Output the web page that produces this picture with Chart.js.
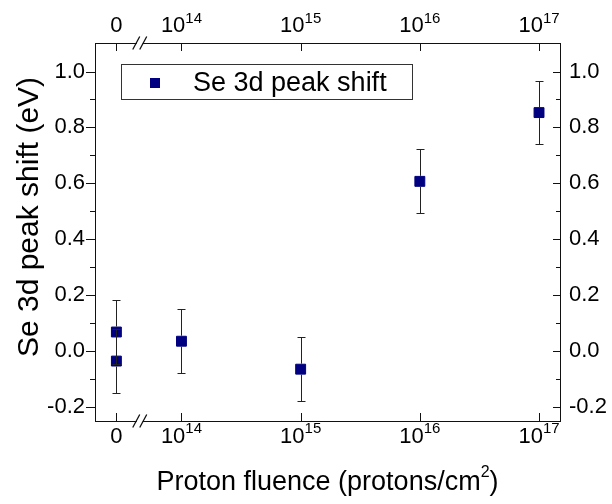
<!DOCTYPE html>
<html><head><meta charset="utf-8">
<script src="https://cdn.jsdelivr.net/npm/chart.js@4.4.1/dist/chart.umd.min.js"></script>
<style>html,body{margin:0;padding:0;background:#fff}#wrap{width:612px;height:504px}</style>
</head><body><div id="wrap"><canvas id="c" width="612" height="504"></canvas></div>
<script>
// ---- data ----
const fluence = [0, 0, 1e14, 1e15, 1e16, 1e17];            // protons/cm^2
const peakShift = [0.068, -0.036, 0.035, -0.065, 0.607, 0.853]; // eV
const peakShiftErr = [0.114, 0.114, 0.114, 0.115, 0.114, 0.114];
const xTickFluence = [0, 1e14, 1e15, 1e16, 1e17];
const xTickBase = ['0', '10', '10', '10', '10'];
const xTickExp = ['', '14', '15', '16', '17'];
const yTickValues = [-0.2, 0, 0.2, 0.4, 0.6, 0.8, 1.0];
const yMinorValues = [-0.1, 0.1, 0.3, 0.5, 0.7, 0.9];
const seriesName = 'Se 3d peak shift';
const xTitleMain = 'Proton fluence (protons/cm';
const xTitleSup = '2';
const xTitleEnd = ')';
const yTitle = 'Se 3d peak shift (eV)';

// ---- axis mapping (broken log axis: 0 placed left of the break) ----
const ZERO_POS = 13.454, BREAK_POS = 13.65;
const X_MIN = 13.2746, X_MAX = 17.176, Y_MIN = -0.2504, Y_MAX = 1.102;
function fluencePos(f) { return f === 0 ? ZERO_POS : Math.log10(f); }

const FONT = '"Liberation Sans", Arial, Helvetica, sans-serif';
const AX = '#111';
const MARK = '#000080';
const ERRC = '#222';
const TICK_PX = 22, SUP_PX = 15;

const decor = {
  id: 'decor',
  afterDatasetsDraw(chart) {
    const ctx = chart.ctx, ca = chart.chartArea;
    const xs = chart.scales.x, ys = chart.scales.y;
    ctx.save();
    // error bars
    const meta = chart.getDatasetMeta(0);
    ctx.strokeStyle = ERRC; ctx.lineWidth = 1;
    ctx.beginPath();
    meta.data.forEach((pt, i) => {
      const x = Math.round(pt.x) + 0.5;
      const yT = Math.round(ys.getPixelForValue(peakShift[i] + peakShiftErr[i])) + 0.5;
      const yB = Math.round(ys.getPixelForValue(peakShift[i] - peakShiftErr[i])) + 0.5;
      const half = 5.5;
      ctx.moveTo(x, yT); ctx.lineTo(x, pt.y - half);
      ctx.moveTo(x, pt.y + half); ctx.lineTo(x, yB);
      ctx.moveTo(x - 4, yT); ctx.lineTo(x + 4, yT);
      ctx.moveTo(x - 4, yB); ctx.lineTo(x + 4, yB);
    });
    ctx.stroke();

    // axis ticks
    ctx.strokeStyle = AX; ctx.beginPath();
    xTickFluence.forEach(f => {
      const px = Math.round(xs.getPixelForValue(fluencePos(f))) + 0.5;
      ctx.moveTo(px, ca.top); ctx.lineTo(px, ca.top + 8);
      ctx.moveTo(px, ca.bottom); ctx.lineTo(px, ca.bottom - 8);
    });
    yTickValues.forEach(v => {
      const py = Math.round(ys.getPixelForValue(v)) + 0.5;
      ctx.moveTo(ca.left, py); ctx.lineTo(ca.left - 9, py);
      ctx.moveTo(ca.right, py); ctx.lineTo(ca.right - 7, py);
    });
    yMinorValues.forEach(v => {
      const py = Math.round(ys.getPixelForValue(v)) + 0.5;
      ctx.moveTo(ca.left, py); ctx.lineTo(ca.left - 5, py);
      ctx.moveTo(ca.right, py); ctx.lineTo(ca.right - 4, py);
    });
    ctx.stroke();

    // axis break marks
    const bx = xs.getPixelForValue(BREAK_POS);
    [ca.top, ca.bottom].forEach(yy => {
      ctx.fillStyle = '#fff';
      ctx.fillRect(bx - 3, yy - 1, 6, 2.5);
      ctx.beginPath();
      [-3.5, 3.5].forEach(d => {
        ctx.moveTo(bx + d - 3.5, yy + 6.5); ctx.lineTo(bx + d + 3.5, yy - 6.5);
      });
      ctx.strokeStyle = AX; ctx.lineWidth = 1.3; ctx.stroke();
    });
    ctx.lineWidth = 1;

    // x tick labels with superscripts (top and bottom)
    ctx.fillStyle = '#000'; ctx.textBaseline = 'alphabetic'; ctx.textAlign = 'left';
    xTickFluence.forEach((f, i) => {
      const px = xs.getPixelForValue(fluencePos(f));
      ctx.font = TICK_PX + 'px ' + FONT;
      const wb = ctx.measureText(xTickBase[i]).width;
      ctx.font = SUP_PX + 'px ' + FONT;
      const we = xTickExp[i] ? ctx.measureText(xTickExp[i]).width : 0;
      const x0 = px - (wb + we) / 2;
      [[31.7, 9], [443.3, 10]].forEach(([base, raise]) => {
        ctx.font = TICK_PX + 'px ' + FONT;
        ctx.fillText(xTickBase[i], x0, base);
        if (xTickExp[i]) { ctx.font = SUP_PX + 'px ' + FONT; ctx.fillText(xTickExp[i], x0 + wb, base - raise); }
      });
    });

    // x title
    ctx.font = '27px ' + FONT;
    const w1 = ctx.measureText(xTitleMain).width, w3 = ctx.measureText(xTitleEnd).width;
    ctx.font = '16px ' + FONT;
    const w2 = ctx.measureText(xTitleSup).width;
    let tx = (ca.left + ca.right) / 2 - (w1 + w2 + w3) / 2;
    ctx.font = '27px ' + FONT; ctx.fillText(xTitleMain, tx, 490);
    ctx.font = '16px ' + FONT; ctx.fillText(xTitleSup, tx + w1, 477);
    ctx.font = '27px ' + FONT; ctx.fillText(xTitleEnd, tx + w1 + w2, 490);

    // y title
    ctx.save();
    ctx.translate(30, 217); ctx.rotate(-Math.PI / 2);
    ctx.textAlign = 'center'; ctx.textBaseline = 'middle';
    ctx.font = '30px ' + FONT; ctx.fillText(yTitle, 0, 0);
    ctx.restore();

    // legend box
    ctx.fillStyle = '#fff'; ctx.fillRect(122, 64, 290, 35);
    ctx.strokeStyle = '#333'; ctx.lineWidth = 1; ctx.strokeRect(121.5, 64.5, 291, 35);
    ctx.fillStyle = MARK; ctx.fillRect(150, 78, 10, 10);
    ctx.fillStyle = '#000'; ctx.font = '27px ' + FONT; ctx.textAlign = 'left'; ctx.textBaseline = 'alphabetic';
    ctx.fillText(seriesName, 193, 91);
    ctx.restore();
  }
};

const xCommon = {
  type: 'linear', min: X_MIN, max: X_MAX, display: true,
  grid: { display: false, drawTicks: false },
  border: { display: true, color: AX, width: 1 },
  ticks: { display: false }
};
const yTickOpts = (pad) => ({
  color: '#000', font: { family: FONT, size: TICK_PX }, padding: pad,
  callback: v => Number(v).toFixed(1)
});
const setYTicks = s => { s.ticks = yTickValues.map(v => ({ value: v })); };

new Chart(document.getElementById('c'), {
  type: 'scatter',
  data: {
    datasets: [{
      label: seriesName,
      data: fluence.map((f, i) => ({ x: fluencePos(f), y: peakShift[i] })),
      pointStyle: 'rect', pointRadius: 7, pointHoverRadius: 7,
      backgroundColor: MARK, borderColor: MARK, pointBorderWidth: 1,
      showLine: false, xAxisID: 'x', yAxisID: 'y'
    }]
  },
  options: {
    responsive: false, animation: false, devicePixelRatio: 1,
    layout: { padding: 0 },
    plugins: { legend: { display: false }, tooltip: { enabled: false } },
    scales: {
      x: Object.assign({}, xCommon, { position: 'bottom', afterFit(s) { s.height = 83; } }),
      x2: Object.assign({}, xCommon, { position: 'top', afterFit(s) { s.height = 43; } }),
      y: {
        type: 'linear', position: 'left', min: Y_MIN, max: Y_MAX, display: true,
        grid: { display: false, drawTicks: false },
        border: { display: true, color: AX, width: 1 },
        ticks: yTickOpts(10), afterBuildTicks: setYTicks,
        afterFit(s) { s.width = 95; }
      },
      y2: {
        type: 'linear', position: 'right', min: Y_MIN, max: Y_MAX, display: true,
        grid: { display: false, drawTicks: false },
        border: { display: true, color: AX, width: 1 },
        ticks: yTickOpts(9), afterBuildTicks: setYTicks,
        afterFit(s) { s.width = 52; }
      }
    }
  },
  plugins: [decor]
});
</script></body></html>
